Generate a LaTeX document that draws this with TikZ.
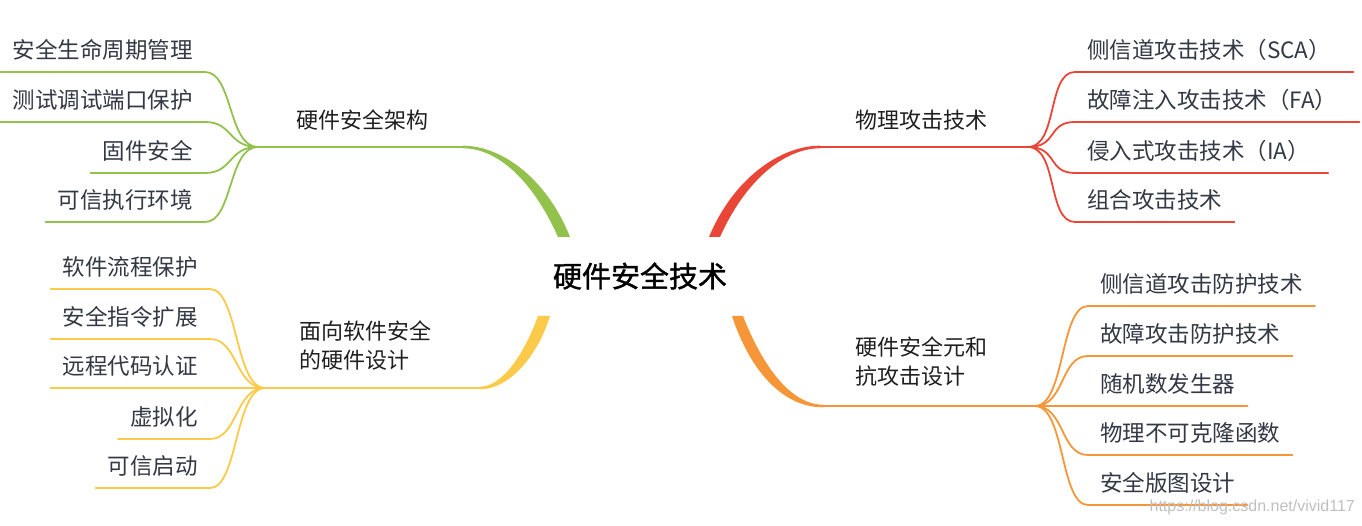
\documentclass[tikz,border=0pt]{standalone}
\usepackage{fontspec}
\setmainfont{Noto Sans CJK SC}
\newfontfamily\rootfont[FakeBold=1.2]{Noto Sans CJK SC}
\newfontfamily\markfont{Liberation Sans}
\usepackage{xcolor}
\usetikzlibrary{calc}
\definecolor{mmgreen}{RGB}{146,193,76}
\definecolor{mmred}{RGB}{234,70,56}
\definecolor{mmyellow}{RGB}{250,202,72}
\definecolor{mmorange}{RGB}{245,150,56}
\definecolor{leaftext}{RGB}{50,56,68}

\begin{document}
\begin{tikzpicture}[x=1pt, y=-1pt,
  root/.style={font=\rootfont\fontsize{29}{34}\selectfont, text=black},
  topic/.style={font=\fontsize{22}{29}\selectfont, text=black!88, align=left},
  leaf/.style={font=\fontsize{22.5}{26}\selectfont, text=leaftext, inner xsep=12pt,
               inner ysep=9.5pt, text height=16pt, text depth=4pt},
  twig/.style={line width=1.8pt, line cap=round},
  bough/.style={line width=2.4pt},
  wmark/.style={font=\markfont\fontsize{16}{18}\selectfont, text=gray!50, inner sep=0pt},
]
  \useasboundingbox (0,0) rectangle (1362,526);

  \node[root] (root) at (640,276) {硬件安全技术};

  \node[topic] (arch) at (362,120) {硬件安全架构};
  \node[topic] (soft) at (365,346) {面向软件安全\\的硬件设计};
  \node[topic] (phys) at (921,120) {物理攻击技术};
  \node[topic] (elem) at (921,362) {硬件安全元和\\抗攻击设计};

  \coordinate (archB) at (463,147);
  \coordinate (archJ) at (258,147);
  \coordinate (softB) at (480,388);
  \coordinate (softJ) at (265,388);
  \coordinate (physB) at (820,147);
  \coordinate (physJ) at (1028,147);
  \coordinate (elemB) at (823,406);
  \coordinate (elemJ) at (1035,406);

  \fill[mmgreen] (558,237) .. controls (533,181) and (498,148.3) .. ($(archB)+(0,1.3)$)
    -- ($(archB)+(0,-1.3)$) .. controls (502,145.7) and (547,179) .. (570,237) -- cycle;
  \fill[mmred] (709,237) .. controls (733,179) and (780,145.7) .. ($(physB)+(0,-1.3)$)
    -- ($(physB)+(0,1.3)$) .. controls (784,148.3) and (745,181) .. (720,237) -- cycle;
  \fill[mmyellow] (538,316) .. controls (525,352) and (503,386.7) .. ($(softB)+(0,-1.3)$)
    -- ($(softB)+(0,1.3)$) .. controls (508,389.3) and (537,358) .. (550,316) -- cycle;
  \fill[mmorange] (732,316) .. controls (749,368) and (781,407.3) .. ($(elemB)+(0,1.3)$)
    -- ($(elemB)+(0,-1.3)$) .. controls (789,404.7) and (761,362) .. (743,316) -- cycle;

  \draw[bough, mmgreen] (archB) -- (archJ);
  \draw[bough, mmyellow] (softB) -- (softJ);
  \draw[bough, mmred] (physB) -- (physJ);
  \draw[bough, mmorange] (elemB) -- (elemJ);

  \node[leaf, anchor=south east] (a1) at (205,72) {安全生命周期管理};
  \node[leaf, anchor=south east] (a2) at (205,122) {测试调试端口保护};
  \node[leaf, anchor=south east] (a3) at (205,173) {固件安全};
  \node[leaf, anchor=south east] (a4) at (205,222) {可信执行环境};

  \node[leaf, anchor=south east] (s1) at (210,289) {软件流程保护};
  \node[leaf, anchor=south east] (s2) at (210,339) {安全指令扩展};
  \node[leaf, anchor=south east] (s3) at (210,388) {远程代码认证};
  \node[leaf, anchor=south east] (s4) at (210,439) {虚拟化};
  \node[leaf, anchor=south east] (s5) at (210,488) {可信启动};

  \node[leaf, anchor=south west] (p1) at (1075,72) {侧信道攻击技术（SCA）};
  \node[leaf, anchor=south west] (p2) at (1075,122) {故障注入攻击技术（FA）};
  \node[leaf, anchor=south west] (p3) at (1075,173) {侵入式攻击技术（IA）};
  \node[leaf, anchor=south west] (p4) at (1075,222) {组合攻击技术};

  \node[leaf, anchor=south west] (e1) at (1088,306) {侧信道攻击防护技术};
  \node[leaf, anchor=south west] (e2) at (1088,356) {故障攻击防护技术};
  \node[leaf, anchor=south west] (e3) at (1088,406) {随机数发生器};
  \node[leaf, anchor=south west] (e4) at (1088,455) {物理不可克隆函数};
  \node[leaf, anchor=south west] (e5) at (1088,505) {安全版图设计};

  \draw[twig, mmgreen] (archJ) .. controls +(-30,0) and +(28,0) .. (a1.south east) -- (a1.south west);
  \draw[twig, mmgreen] (archJ) .. controls +(-30,0) and +(28,0) .. (a2.south east) -- (a2.south west);
  \draw[twig, mmgreen] (archJ) .. controls +(-30,0) and +(28,0) .. (a3.south east) -- (a3.south west);
  \draw[twig, mmgreen] (archJ) .. controls +(-30,0) and +(28,0) .. (a4.south east) -- (a4.south west);

  \draw[twig, mmyellow] (softJ) .. controls +(-30,0) and +(28,0) .. (s1.south east) -- (s1.south west);
  \draw[twig, mmyellow] (softJ) .. controls +(-30,0) and +(28,0) .. (s2.south east) -- (s2.south west);
  \draw[twig, mmyellow] (softJ) -- (s3.south east) -- (s3.south west);
  \draw[twig, mmyellow] (softJ) .. controls +(-30,0) and +(28,0) .. (s4.south east) -- (s4.south west);
  \draw[twig, mmyellow] (softJ) .. controls +(-30,0) and +(28,0) .. (s5.south east) -- (s5.south west);

  \draw[twig, mmred] (physJ) .. controls +(30,0) and +(-28,0) .. (p1.south west) -- ([xshift=10pt]p1.south east);
  \draw[twig, mmred] (physJ) .. controls +(30,0) and +(-28,0) .. (p2.south west) -- ([xshift=10pt]p2.south east);
  \draw[twig, mmred] (physJ) .. controls +(30,0) and +(-28,0) .. (p3.south west) -- ([xshift=6pt]p3.south east);
  \draw[twig, mmred] (physJ) .. controls +(30,0) and +(-28,0) .. (p4.south west) -- (p4.south east);

  \draw[twig, mmorange] (elemJ) .. controls +(30,0) and +(-28,0) .. (e1.south west) -- (e1.south east);
  \draw[twig, mmorange] (elemJ) .. controls +(30,0) and +(-28,0) .. (e2.south west) -- (e2.south east);
  \draw[twig, mmorange] (elemJ) -- (e3.south west) -- (e3.south east);
  \draw[twig, mmorange] (elemJ) .. controls +(30,0) and +(-28,0) .. (e4.south west) -- (e4.south east);
  \draw[twig, mmorange] (elemJ) .. controls +(30,0) and +(-28,0) .. (e5.south west) -- (e5.south east);

  \node[wmark, anchor=east] (url) at (1355,507) {https://blog.csdn.net/vivid117};
\end{tikzpicture}
\end{document}
